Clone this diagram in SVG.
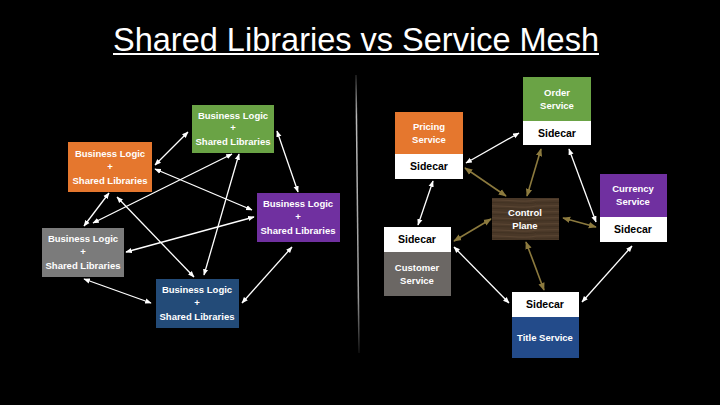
<svg xmlns="http://www.w3.org/2000/svg" width="720" height="405" viewBox="0 0 720 405">
<defs>
<marker id="aw" viewBox="0 0 10 10" refX="9" refY="5" markerWidth="5" markerHeight="5" orient="auto-start-reverse"><path d="M0,1 L10,5 L0,9 z" fill="#ffffff"/></marker>
<marker id="ab" viewBox="0 0 10 10" refX="9" refY="5" markerWidth="5" markerHeight="5" orient="auto-start-reverse"><path d="M0,1 L10,5 L0,9 z" fill="#8c7a3e"/></marker>
<linearGradient id="div" x1="0" y1="0" x2="0" y2="1"><stop offset="0" stop-color="#222"/><stop offset="0.15" stop-color="#bbb"/><stop offset="0.8" stop-color="#999"/><stop offset="1" stop-color="#111"/></linearGradient>
<pattern id="wood" width="67" height="6" patternUnits="userSpaceOnUse"><rect width="67" height="6" fill="#4a3828"/><path d="M0,2 Q20,1 40,2.5 T67,2" stroke="#5a4532" stroke-width="1" fill="none"/><path d="M0,5 Q25,4 45,5 T67,4.5" stroke="#3e2e20" stroke-width="0.8" fill="none"/></pattern>
<style>
.t{font-family:"Liberation Sans",Arial,sans-serif;font-weight:bold;font-size:9.5px;fill:#fff;text-anchor:middle}
.d{font-family:"Liberation Sans",Arial,sans-serif;font-weight:bold;font-size:10.5px;fill:#000;text-anchor:middle}
.w{stroke:#fff;stroke-width:1.3;fill:none;marker-start:url(#aw);marker-end:url(#aw)}
.b{stroke:#8c7a3e;stroke-width:1.6;fill:none;marker-start:url(#ab);marker-end:url(#ab)}
</style>
</defs>
<rect width="720" height="405" fill="#000"/>
<text x="356" y="51" font-family="'Gill Sans','Liberation Sans',Arial,sans-serif" font-size="34" fill="#fff" text-anchor="middle" textLength="486" lengthAdjust="spacingAndGlyphs">Shared Libraries vs Service Mesh</text>
<rect x="113" y="53" width="486" height="2" fill="#fff"/>
<path d="M356,75 L359,353" stroke="url(#div)" stroke-width="1.5"/>

<g id="connectors">
<line class="w" x1="155" y1="165" x2="188" y2="132"/>
<line class="w" x1="277" y1="131" x2="298" y2="192"/>
<line class="w" x1="155" y1="169" x2="252" y2="210"/>
<line class="w" x1="232" y1="154" x2="93" y2="223"/>
<line class="w" x1="109" y1="193" x2="84" y2="226"/>
<line class="w" x1="117" y1="197" x2="194" y2="277"/>
<line class="w" x1="239" y1="154" x2="204" y2="275"/>
<line class="w" x1="126" y1="252" x2="254" y2="217"/>
<line class="w" x1="84" y1="279" x2="151" y2="303"/>
<line class="w" x1="292" y1="247" x2="242" y2="303"/>

<line class="w" x1="466" y1="163" x2="519" y2="133"/>
<line class="w" x1="433" y1="181" x2="418" y2="225"/>
<line class="w" x1="569" y1="149" x2="596" y2="222"/>
<line class="w" x1="454" y1="247" x2="509" y2="303"/>
<line class="w" x1="632" y1="246" x2="582" y2="302"/>
<line class="b" x1="506" y1="196" x2="465" y2="168"/>
<line class="b" x1="527" y1="196" x2="541" y2="149"/>
<line class="b" x1="563" y1="218" x2="596" y2="227"/>
<line class="b" x1="491" y1="219" x2="454" y2="241"/>
<line class="b" x1="526" y1="242" x2="544" y2="290"/>
</g>

<g id="lib-green"><rect x="192" y="105" width="82" height="48" fill="#6aa345"/><text class="t" x="233" y="119">Business Logic</text><text class="t" x="233" y="131">+</text><text class="t" x="233" y="145">Shared Libraries</text></g>
<g id="lib-orange"><rect x="68" y="142" width="84" height="50" fill="#e5772e"/><text class="t" x="110" y="157">Business Logic</text><text class="t" x="110" y="170">+</text><text class="t" x="110" y="184">Shared Libraries</text></g>
<g id="lib-purple"><rect x="257" y="193" width="83" height="49" fill="#7030a0"/><text class="t" x="298" y="207">Business Logic</text><text class="t" x="298" y="220">+</text><text class="t" x="298" y="234">Shared Libraries</text></g>
<g id="lib-gray"><rect x="42" y="228" width="82" height="49" fill="#7b7b7b"/><text class="t" x="83" y="242">Business Logic</text><text class="t" x="83" y="255">+</text><text class="t" x="83" y="269">Shared Libraries</text></g>
<g id="lib-blue"><rect x="156" y="279" width="83" height="49" fill="#234b78"/><text class="t" x="197" y="293">Business Logic</text><text class="t" x="197" y="306">+</text><text class="t" x="197" y="320">Shared Libraries</text></g>

<g id="order"><rect x="523" y="77" width="68" height="44" fill="#6aa345"/><text class="t" x="557" y="96">Order</text><text class="t" x="557" y="109">Service</text><rect x="523" y="121" width="68" height="24" fill="#fff"/><text class="d" x="557" y="137">Sidecar</text></g>
<g id="pricing"><rect x="395" y="112" width="68" height="42" fill="#e5772e"/><text class="t" x="429" y="130">Pricing</text><text class="t" x="429" y="143">Service</text><rect x="395" y="154" width="68" height="25" fill="#fff"/><text class="d" x="429" y="170">Sidecar</text></g>
<g id="currency"><rect x="600" y="174" width="67" height="43" fill="#7030a0"/><text class="t" x="633" y="192">Currency</text><text class="t" x="633" y="205">Service</text><rect x="600" y="217" width="67" height="25" fill="#fff"/><text class="d" x="633" y="233">Sidecar</text></g>
<g id="control-plane"><rect x="492" y="198" width="67" height="42" fill="url(#wood)"/><text class="t" x="525" y="216">Control</text><text class="t" x="525" y="229">Plane</text></g>
<g id="customer"><rect x="384" y="227" width="67" height="25" fill="#fff"/><text class="d" x="417" y="243">Sidecar</text><rect x="384" y="252" width="67" height="44" fill="#6b6764"/><text class="t" x="417" y="271">Customer</text><text class="t" x="417" y="284">Service</text></g>
<g id="title-svc"><rect x="512" y="292" width="67" height="25" fill="#fff"/><text class="d" x="545" y="308">Sidecar</text><rect x="512" y="317" width="67" height="41" fill="#234b8a"/><text class="t" x="545" y="341">Title Service</text></g>
</svg>
